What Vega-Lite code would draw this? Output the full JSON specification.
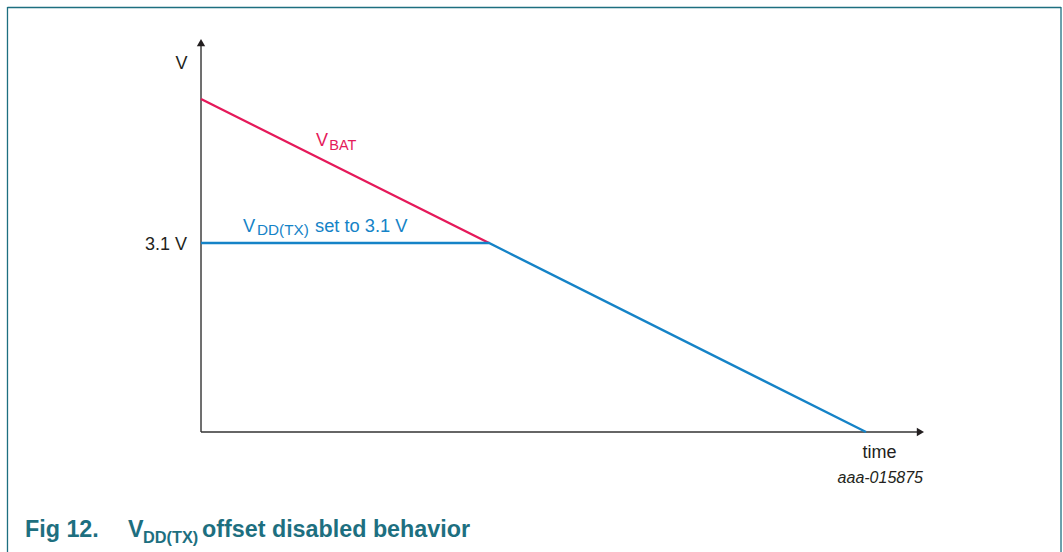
{
  "$schema": "https://vega.github.io/schema/vega-lite/v6.json",
  "width": 1063,
  "height": 552,
  "autosize": {"type": "none"},
  "padding": 0,
  "background": "white",
  "config": {"view": {"stroke": null}, "text": {"font": "Liberation Sans"}},
  "datasets": {
    "lines": [
      {"series": "VBAT", "t": 0, "v": 5.462},
      {"series": "VBAT", "t": 4.331, "v": 3.1},
      {"series": "VDD", "t": 0, "v": 3.1},
      {"series": "VDD", "t": 4.331, "v": 3.1},
      {"series": "VDD", "t": 10, "v": 0}
    ],
    "axes": [
      {"axis": "y", "t": 0, "v": 0, "t2": 0, "v2": 6.387},
      {"axis": "x", "t": 0, "v": 0, "t2": 10.818, "v2": 0}
    ],
    "arrows": [
      {"shape": "triangle-up", "t": 0, "v": 6.387},
      {"shape": "triangle-right", "t": 10.818, "v": 0}
    ],
    "frame": [
      {"side": "left", "t": -2.910, "v": 6.971, "t2": -2.910, "v2": -2.2},
      {"side": "top", "t": -2.910, "v": 6.963, "t2": 12.932, "v2": 6.963},
      {"side": "right", "t": 12.932, "v": 6.971, "t2": 12.932, "v2": -2.2}
    ],
    "centerLabels": [
      {"label": "V", "t": -0.293, "v": 5.954},
      {"label": "time", "t": 10.203, "v": -0.426}
    ],
    "rightLabels": [
      {"label": "3.1 V", "t": -0.2105, "v": 2.985}
    ],
    "code": [
      {"label": "aaa-015875", "t": 10.857, "v": -0.836}
    ],
    "vbatMain": [{"label": "V", "t": 1.729, "v": 4.691}],
    "vbatSub": [{"label": "BAT", "t": 1.929, "v": 4.625}],
    "vddMain": [
      {"label": "V", "t": 0.632, "v": 3.280},
      {"label": "set to 3.1 V", "t": 1.714, "v": 3.280}
    ],
    "vddSub": [{"label": "DD(TX)", "t": 0.842, "v": 3.231}],
    "titleMain": [
      {"label": "Fig 12.", "t": -2.647, "v": -1.722},
      {"label": "V", "t": -1.098, "v": -1.722},
      {"label": "offset disabled behavior", "t": 0.015, "v": -1.722}
    ],
    "titleSub": [{"label": "DD(TX)", "t": -0.872, "v": -1.821}]
  },
  "encoding": {
    "x": {"field": "t", "type": "quantitative", "scale": {"domain": [-3.0226, 12.962], "nice": false, "zero": false}, "axis": null},
    "y": {"field": "v", "type": "quantitative", "scale": {"domain": [-1.968, 7.086], "nice": false, "zero": false}, "axis": null}
  },
  "layer": [
    {
      "data": {"name": "frame"},
      "mark": {"type": "rule", "color": "#1d6f80", "strokeWidth": 1.3},
      "encoding": {"x2": {"field": "t2"}, "y2": {"field": "v2"}}
    },
    {
      "data": {"name": "axes"},
      "mark": {"type": "rule", "color": "#333333", "strokeWidth": 1.4},
      "encoding": {"x2": {"field": "t2"}, "y2": {"field": "v2"}}
    },
    {
      "data": {"name": "arrows"},
      "mark": {"type": "point", "filled": true, "size": 70, "color": "#231f20", "opacity": 1},
      "encoding": {"shape": {"field": "shape", "type": "nominal", "scale": null}}
    },
    {
      "data": {"name": "lines"},
      "mark": {"type": "line", "strokeWidth": 2.4},
      "encoding": {
        "color": {"field": "series", "type": "nominal", "scale": {"domain": ["VBAT", "VDD"], "range": ["#e5195a", "#1583c7"]}, "legend": null},
        "order": {"field": "t"}
      }
    },
    {
      "data": {"name": "centerLabels"},
      "mark": {"type": "text", "fontSize": 18, "color": "#231f20", "align": "center", "baseline": "alphabetic"},
      "encoding": {"text": {"field": "label"}}
    },
    {
      "data": {"name": "rightLabels"},
      "mark": {"type": "text", "fontSize": 18, "color": "#231f20", "align": "right", "baseline": "alphabetic"},
      "encoding": {"text": {"field": "label"}}
    },
    {
      "data": {"name": "code"},
      "mark": {"type": "text", "fontSize": 16, "fontStyle": "italic", "color": "#231f20", "align": "right", "baseline": "alphabetic"},
      "encoding": {"text": {"field": "label"}}
    },
    {
      "data": {"name": "vbatMain"},
      "mark": {"type": "text", "fontSize": 18, "color": "#e5195a", "align": "left", "baseline": "alphabetic"},
      "encoding": {"text": {"field": "label"}}
    },
    {
      "data": {"name": "vbatSub"},
      "mark": {"type": "text", "fontSize": 14.5, "color": "#e5195a", "align": "left", "baseline": "alphabetic"},
      "encoding": {"text": {"field": "label"}}
    },
    {
      "data": {"name": "vddMain"},
      "mark": {"type": "text", "fontSize": 18.3, "color": "#1583c7", "align": "left", "baseline": "alphabetic"},
      "encoding": {"text": {"field": "label"}}
    },
    {
      "data": {"name": "vddSub"},
      "mark": {"type": "text", "fontSize": 15.3, "color": "#1583c7", "align": "left", "baseline": "alphabetic"},
      "encoding": {"text": {"field": "label"}}
    },
    {
      "data": {"name": "titleMain"},
      "mark": {"type": "text", "fontSize": 23.3, "fontWeight": "bold", "color": "#1d6f80", "align": "left", "baseline": "alphabetic"},
      "encoding": {"text": {"field": "label"}}
    },
    {
      "data": {"name": "titleSub"},
      "mark": {"type": "text", "fontSize": 16.3, "fontWeight": "bold", "color": "#1d6f80", "align": "left", "baseline": "alphabetic"},
      "encoding": {"text": {"field": "label"}}
    }
  ]
}
